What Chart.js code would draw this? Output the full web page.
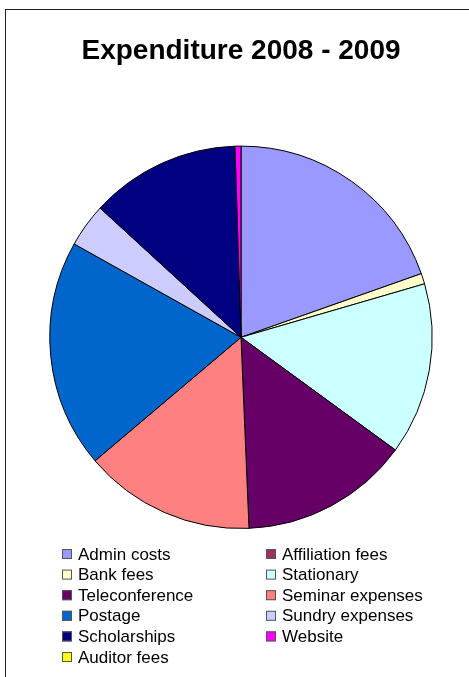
<!DOCTYPE html>
<html>
<head>
<meta charset="utf-8">
<title>Expenditure 2008 - 2009</title>
<script src="https://cdn.jsdelivr.net/npm/chart.js@4"></script>
<style>
  body { margin: 0; background: #fff; }
  #wrap { position: relative; width: 469px; height: 677px; }
  #frame { position: absolute; left: 5px; top: 9px; right: 0; bottom: 0; border-left: 1px solid #222; border-top: 1px solid #222; pointer-events: none; }
  canvas { position: absolute; left: 0; top: 0; }
</style>
</head>
<body>
<div id="wrap">
  <canvas id="chart" width="469" height="677"></canvas>
  <div id="frame"></div>
</div>
<script>
const labels = ['Admin costs', 'Affiliation fees', 'Bank fees', 'Stationary', 'Teleconference',
  'Seminar expenses', 'Postage', 'Sundry expenses', 'Scholarships', 'Website', 'Auditor fees'];
const amounts = [706, 0, 32, 524, 515, 522, 695, 133, 457, 18, 0];
const colors = ['#9999FF', '#993366', '#FFFFCC', '#CCFFFF', '#660066',
  '#FF8080', '#0066CC', '#CCCCFF', '#000080', '#FF00FF', '#FFFF00'];

// two column legend like the excel one
const legendPlugin = {
  id: 'twoColLegend',
  afterDraw(chart) {
    const ctx = chart.ctx;
    const cols = [62, 266];
    ctx.save();
    ctx.font = '17px "Liberation Sans", Arial, sans-serif';
    ctx.textBaseline = 'middle';
    labels.forEach(function(label, i) {
      const x = cols[i % 2];
      const y = 554 + Math.floor(i / 2) * 20.6;
      ctx.fillStyle = colors[i];
      ctx.fillRect(x, y - 5, 10, 10);
      ctx.strokeStyle = '#555';
      ctx.lineWidth = 1;
      ctx.strokeRect(x + 0.5, y - 4.5, 9, 9);
      ctx.fillStyle = '#000';
      ctx.fillText(label, x + 16, y + 1);
    });
    ctx.restore();
  }
};

new Chart(document.getElementById('chart'), {
  type: 'pie',
  data: {
    labels: labels,
    datasets: [{
      data: amounts,
      backgroundColor: colors,
      borderColor: '#000',
      borderWidth: function(c) { return c.raw === 0 ? 0 : 1; }
    }]
  },
  options: {
    responsive: false,
    animation: false,
    layout: { padding: { left: 49, right: 36, top: 0, bottom: 148 } },
    plugins: {
      legend: { display: false },
      tooltip: { enabled: false },
      title: {
        display: true,
        text: 'Expenditure 2008 - 2009',
        color: '#000',
        font: { family: '"Liberation Sans", Arial, sans-serif', size: 28, weight: 'bold' },
        padding: { top: 34, bottom: 78 }
      }
    }
  },
  plugins: [legendPlugin]
});
</script>
</body>
</html>
